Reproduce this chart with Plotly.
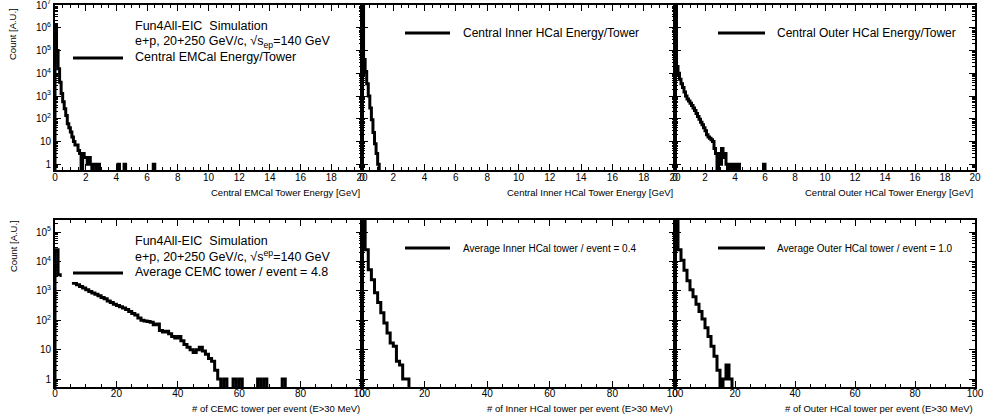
import plotly.graph_objects as go

W, H = 984, 420

# ---------------- data (counts per bin) ----------------
E_BIN_WIDTH = 0.1   # GeV
N_BIN_WIDTH = 1     # towers

emcal_energy_counts = [
    1400000, 100000, 16000, 4000, 1300, 560, 280, 140, 60, 40,
    26, 16, 10, 7, 7, 4, 3, 0, 3, 2,
    2, 1, 2, 1, 0, 1, 1, 0, 1, 0,
    0, 0, 0, 0, 0, 0, 0, 0, 0, 0,
    0, 1, 0, 0, 0, 1, 0, 0, 0, 0,
    0, 0, 0, 0, 0, 0, 0, 0, 0, 0,
    0, 0, 0, 0, 1, 0,
]
ihcal_energy_counts = [
    12000000, 40000, 12000, 3500, 1000, 300, 90, 25, 8, 3, 1, 0,
]
ohcal_energy_counts = [
    12000000, 20000, 10000, 5500, 3500, 2400, 1500, 1000, 750, 600,
    480, 380, 300, 230, 170, 125, 95, 70, 55, 40,
    30, 20, 16, 14, 12, 10, 5, 3, 0, 3,
    1, 5, 2, 3, 1, 0, 1, 0, 1, 1,
    0, 1, 1, 0, 0, 0, 0, 0, 0, 0,
    0, 0, 0, 0, 0, 0, 0, 0, 0, 1, 0,
]
cemc_ntower_counts = [
    25000, 3500, 3300, 3000, 2700, 2400, 1800, 1600, 1400, 1250,
    1100, 950, 850, 760, 680, 600, 540, 450, 400, 350,
    320, 290, 260, 230, 200, 170, 150, 120, 100, 95,
    90, 85, 70, 75, 45, 40, 42, 35, 28, 25,
    28, 20, 15, 12, 10, 8, 10, 12, 9, 7,
    5, 4, 2, 1, 0, 1, 0, 0, 1, 0,
    1, 0, 0, 0, 0, 0, 1, 0, 1, 0,
    0, 0, 0, 0, 1, 0,
]
ihcal_ntower_counts = [
    300000, 25000, 5200, 2400, 870, 400, 180, 80, 37, 17, 13, 4, 3, 1, 1, 0,
]
ohcal_ntower_counts = [
    300000, 25000, 11000, 5000, 2200, 1100, 630, 350, 200, 110,
    56, 28, 13, 6, 2, 0, 1, 3, 1, 0,
]

top_x_title = [
    "Central EMCal Tower Energy [GeV]",
    "Central Inner HCal Tower Energy [GeV]",
    "Central Outer HCal Tower Energy [GeV]",
]
bottom_x_title = [
    "# of CEMC tower per event (E>30 MeV)",
    "# of Inner HCal tower per event (E>30 MeV)",
    "# of Outer HCal tower per event (E>30 MeV)",
]
top_legend = [
    "Central EMCal Energy/Tower",
    "Central Inner HCal Energy/Tower",
    "Central Outer HCal Energy/Tower",
]
bottom_legend = [
    "Average CEMC tower / event = 4.8",
    "Average Inner HCal tower / event = 0.4",
    "Average Outer HCal tower / event = 1.0",
]
sim_lines_top = ["Fun4All-EIC  Simulation", "e+p, 20+250 GeV/c, √s<sub>ep</sub>=140 GeV"]
sim_lines_bot = ["Fun4All-EIC  Simulation", "e+p, 20+250 GeV/c, √s<sup>ep</sup>=140 GeV"]

# ---------------- helpers ----------------
FLOOR = 1e-3
FONT = "Liberation Sans, Arial, Helvetica, sans-serif"


def px(x):
    return x / W


def py(y):
    return 1 - y / H


def step_xy(counts, width):
    edges = [i * width for i in range(len(counts) + 1)]
    ys = [c if c > 0 else FLOOR for c in counts]
    xs = [edges[0]] + edges[:-1] + [edges[-1], edges[-1]]
    yv = [FLOOR] + ys + [ys[-1], FLOOR]
    return xs, yv


# panel geometry (pixels)
cols = [(55, 362), (362, 675), (675, 975)]
rows = [(5, 170), (220, 387)]

fig = go.Figure()

series = [
    (emcal_energy_counts, E_BIN_WIDTH), (ihcal_energy_counts, E_BIN_WIDTH), (ohcal_energy_counts, E_BIN_WIDTH),
    (cemc_ntower_counts, N_BIN_WIDTH), (ihcal_ntower_counts, N_BIN_WIDTH), (ohcal_ntower_counts, N_BIN_WIDTH),
]

layout_axes = {}
for i, (counts, width) in enumerate(series):
    r, c = divmod(i, 3)
    n = i + 1
    xs, ys = step_xy(counts, width)
    fig.add_trace(go.Scatter(
        x=xs, y=ys, mode="lines", line=dict(color="black", width=3, shape="hv"),
        xaxis="x" if n == 1 else f"x{n}", yaxis="y" if n == 1 else f"y{n}",
        showlegend=False, hoverinfo="skip",
    ))
    x0, x1 = cols[c]
    y0, y1 = rows[r]
    if r == 0:
        xr = [0, 20.0001]
        xt = list(range(0, 21, 2))
        xminor = 0.5
        yr = [-0.25, 7.002]
        ydec = list(range(0, 8))
    else:
        xr = [0, 100.0005]
        xt = list(range(0, 101, 20))
        xminor = 5
        yr = [-0.27, 5.41]
        ydec = list(range(0, 6))
    ytv = [10 ** d for d in ydec]
    ytt = ["1" if d == 0 else ("10" if d == 1 else f"10<sup>{d}</sup>") for d in ydec]
    yminor = [k * 10 ** d for d in range(-1, ydec[-1] + 1) for k in range(2, 10)]
    xname = "xaxis" if n == 1 else f"xaxis{n}"
    yname = "yaxis" if n == 1 else f"yaxis{n}"
    layout_axes[xname] = dict(
        domain=[px(x0), px(x1)], range=xr, anchor="y" if n == 1 else f"y{n}",
        tickmode="array", tickvals=xt, ticktext=[str(v) for v in xt],
        ticks="inside", ticklen=6, tickwidth=1, tickcolor="black",
        minor=dict(dtick=xminor, ticks="inside", ticklen=3, tickwidth=1, tickcolor="black"),
        showline=True, linecolor="black", linewidth=2, mirror="allticks",
        showgrid=False, zeroline=False, ticklabeloverflow="allow",
        ticklabelstandoff=-3 if r == 0 else -4,
        tickfont=dict(family=FONT, size=10, color="black"),
    )
    layout_axes[yname] = dict(
        domain=[py(y1), py(y0)], range=yr, type="log", anchor="x" if n == 1 else f"x{n}",
        tickmode="array", tickvals=ytv, ticktext=ytt, showticklabels=(c == 0),
        ticks="inside", ticklen=6, tickwidth=1, tickcolor="black",
        minor=dict(tickmode="array", tickvals=yminor, ticks="inside", ticklen=3, tickwidth=1, tickcolor="black"),
        showline=True, linecolor="black", linewidth=2, mirror="allticks",
        showgrid=False, zeroline=False, ticklabeloverflow="allow",
        tickfont=dict(family=FONT, size=10, color="black"),
    )

annotations = []
shapes = []

# axis titles
for c in range(3):
    x1 = cols[c][1]
    annotations.append(dict(x=px(x1), y=py(193), xref="paper", yref="paper", text=top_x_title[c],
                            showarrow=False, xanchor="right", yanchor="middle",
                            font=dict(family=FONT, size=9.5, color="black")))
    annotations.append(dict(x=px(x1), y=py(408), xref="paper", yref="paper", text=bottom_x_title[c],
                            showarrow=False, xanchor="right", yanchor="middle",
                            font=dict(family=FONT, size=9.5, color="black")))
for ytop in (6, 218):
    annotations.append(dict(x=px(13), y=py(ytop), xref="paper", yref="paper", text="Count [A.U.]",
                            textangle=-90, showarrow=False, xanchor="center", yanchor="top",
                            font=dict(family=FONT, size=9.5, color="black")))

# mask of the legend box in bottom-left panel (TLegend white fill)
shapes.append(dict(type="rect", xref="paper", yref="paper", x0=px(61.7), x1=px(345), y0=py(282), y1=py(227),
                   fillcolor="white", line=dict(width=0), layer="above"))

# legends, panel 1 (top & bottom)
for (lines, lab, ys) in [(sim_lines_top, top_legend[0], (26, 42, 57)),
                         (sim_lines_bot, bottom_legend[0], (241, 256, 272))]:
    for t, yy in zip(lines + [lab], ys):
        annotations.append(dict(x=px(133), y=py(yy), xref="paper", yref="paper", text=t,
                                showarrow=False, xanchor="left", yanchor="middle",
                                font=dict(family=FONT, size=12.5, color="black")))
    shapes.append(dict(type="line", xref="paper", yref="paper", x0=px(73), x1=px(123),
                       y0=py(ys[2] + 1), y1=py(ys[2] + 1), line=dict(color="black", width=3), layer="above"))

# legends panels 2 & 3
for c, (lx0, lx1, tx) in [(1, (405, 450, 461)), (2, (718, 765, 775))]:
    annotations.append(dict(x=px(tx), y=py(33), xref="paper", yref="paper", text=top_legend[c],
                            showarrow=False, xanchor="left", yanchor="middle",
                            font=dict(family=FONT, size=12, color="black")))
    shapes.append(dict(type="line", xref="paper", yref="paper", x0=px(lx0), x1=px(lx1),
                       y0=py(33), y1=py(33), line=dict(color="black", width=3), layer="above"))
    annotations.append(dict(x=px(tx), y=py(248), xref="paper", yref="paper", text=bottom_legend[c],
                            showarrow=False, xanchor="left", yanchor="middle",
                            font=dict(family=FONT, size=10, color="black")))
    shapes.append(dict(type="line", xref="paper", yref="paper", x0=px(lx0), x1=px(lx1),
                       y0=py(248), y1=py(248), line=dict(color="black", width=3), layer="above"))

fig.update_layout(
    width=W, height=H, autosize=False, margin=dict(l=0, r=0, t=0, b=0, autoexpand=False),
    paper_bgcolor="white", plot_bgcolor="white",
    showlegend=False, annotations=annotations, shapes=shapes,
    font=dict(family=FONT, color="black"),
    **layout_axes,
)

fig.write_html(
    "out.html",
    config={"responsive": False, "displayModeBar": False, "staticPlot": True},
    post_script="document.documentElement.style.overflow='hidden';document.body.style.margin='0px';document.body.style.overflow='hidden';",
)
